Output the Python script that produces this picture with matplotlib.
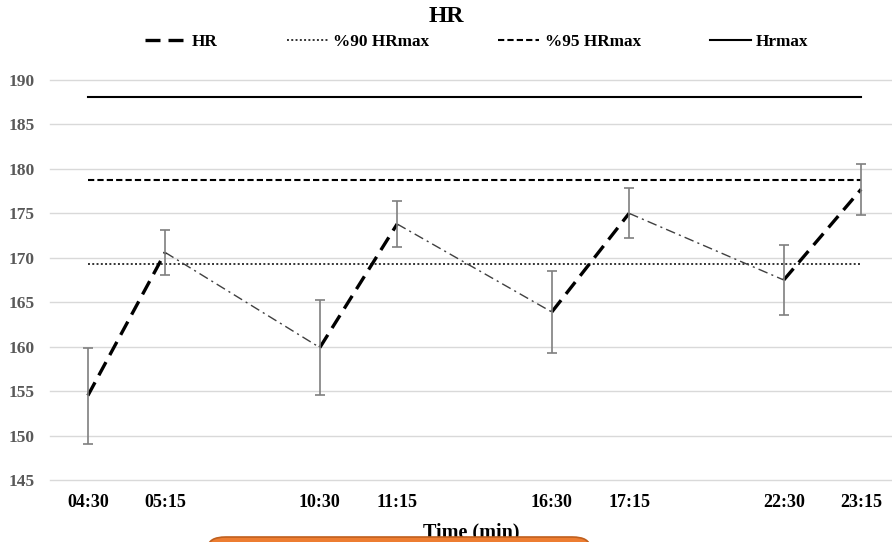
import numpy as np
import matplotlib
matplotlib.use("Agg")
import matplotlib.pyplot as plt
from matplotlib.lines import Line2D
from matplotlib.patches import FancyBboxPatch

plt.rcParams["font.family"] = ["Liberation Serif", "DejaVu Serif"]
plt.rcParams["font.weight"] = "bold"

# category axis as in the source sheet: blank slots between the pairs
categories = ["04:30", "05:15", "", "10:30", "11:15", "", "16:30", "17:15", "", "22:30", "23:15"]
measured = ["04:30", "05:15", "10:30", "11:15", "16:30", "17:15", "22:30", "23:15"]
hr_mean = [154.5, 170.6, 159.9, 173.8, 163.9, 175.0, 167.5, 177.7]
hr_sd = [5.4, 2.5, 5.3, 2.6, 4.6, 2.8, 3.9, 2.9]
hr_max = 188.1
hr_95 = 178.7
hr_90 = 169.3

x = np.array([categories.index(t) for t in measured])
y = np.array(hr_mean)

fig = plt.figure(figsize=(8.92, 5.42), dpi=100)
ax = fig.add_axes([50 / 892, 1 - 480 / 542, 842 / 892, 400 / 542])

for s in ax.spines.values():
    s.set_visible(False)
ax.set_ylim(145, 190)
ax.set_xlim(-0.49, 10.4)
ax.set_yticks(np.arange(145, 191, 5))
ax.yaxis.grid(True, color="#d9d9d9", lw=1.0)
ax.set_axisbelow(True)
for gl in ax.get_ygridlines():
    gl.set_clip_on(False)

ax.set_xticks(x)
ax.set_xticklabels(measured)
ax.tick_params(axis="x", length=0, pad=10, labelsize=13, labelcolor="black")
ax.tick_params(axis="y", length=0, pad=11, labelsize=12.5, labelcolor="#595959")

# reference lines
ax.plot([x[0], x[-1]], [hr_max, hr_max], color="black", lw=1.5)
ax.plot([x[0], x[-1]], [hr_95, hr_95], color="black", lw=1.5, linestyle=(0, (3, 1.5)))
ax.plot([x[0], x[-1]], [hr_90, hr_90], color="#333333", lw=1.4, linestyle=(0, (1, 1.2)))

# recovery segments (thin dash-dot)
for i in range(1, len(x) - 1, 2):
    ax.plot(x[i:i + 2], y[i:i + 2], color="#404040", lw=1.0,
            linestyle=(0, (7, 3, 1.5, 3)))

# effort segments (thick long dash)
hr_style = dict(color="black", lw=2.4, linestyle=(0, (4.5, 2.4)))
for i in range(0, len(x), 2):
    ax.plot(x[i:i + 2], y[i:i + 2], **hr_style)

ax.errorbar(x, y, yerr=hr_sd, fmt="none", ecolor="#7f7f7f", elinewidth=1.2,
            capsize=3.5, capthick=1.2)

ax.set_xlabel("Time (min)", fontsize=14.5, fontweight="bold", labelpad=8)

handles = [
    Line2D([], [], **hr_style),
    Line2D([], [], color="#333333", lw=1.4, linestyle=(0, (1, 1.2))),
    Line2D([], [], color="black", lw=1.5, linestyle=(0, (3, 1.5))),
    Line2D([], [], color="black", lw=1.5),
]
fig.legend(handles, ["HR", "%90 HRmax", "%95 HRmax", "Hrmax"],
           loc="center", bbox_to_anchor=(477 / 892, 1 - 42 / 542), ncol=4,
           frameon=False, fontsize=12.4, handlelength=2.4, handletextpad=0.3,
           columnspacing=4.0)

fig.text(0.5, 1 - 17 / 542, "HR", ha="center", va="center",
         fontsize=17, fontweight="bold")

box = FancyBboxPatch((208 / 892, -0.05), 382 / 892, 0.05 + 5 / 542,
                     boxstyle="round,pad=0,rounding_size=0.02",
                     transform=fig.transFigure, facecolor="#ED7D31",
                     edgecolor="#C0601E", lw=1.2, zorder=10)
fig.patches.append(box)

fig.savefig("out.png", dpi=100)
